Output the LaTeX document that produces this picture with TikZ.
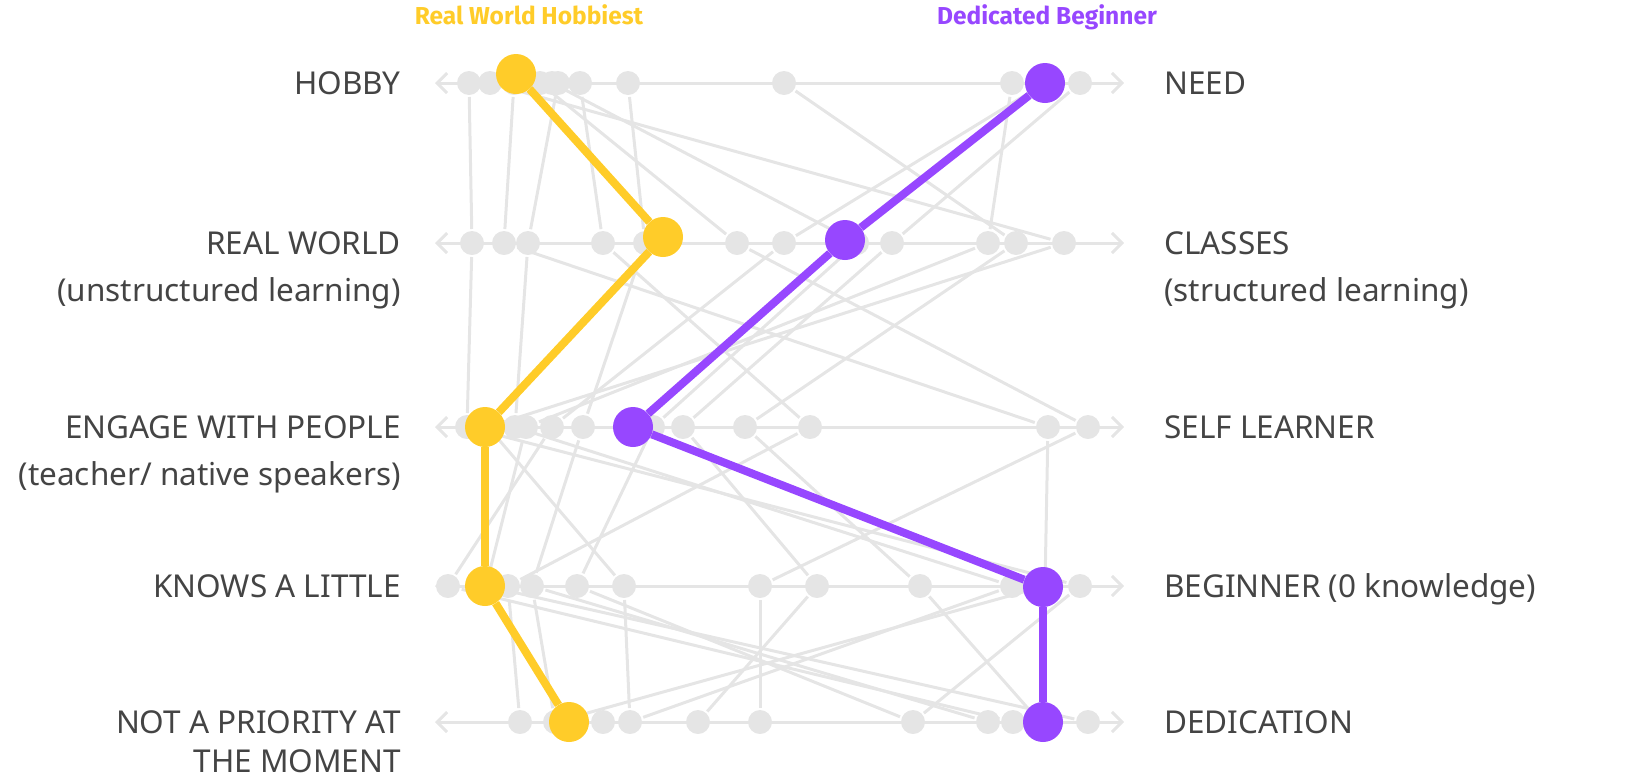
\documentclass[tikz,border=0pt]{standalone}
\usepackage{fontspec}
\setmainfont{Noto Sans}
\newfontfamily\titlefont{Fira Sans}
\usetikzlibrary{arrows.meta}
\definecolor{gr}{HTML}{E5E5E5}
\definecolor{yel}{HTML}{FFCC29}
\definecolor{pur}{HTML}{9747FF}
\definecolor{txt}{HTML}{444444}
\pgfdeclarelayer{bg}
\pgfdeclarelayer{fg}
\pgfsetlayers{bg,main,fg}
\tikzset{
  gdot/.style={circle, fill=gr, minimum size=24pt, inner sep=0pt, outer sep=2pt},
  ydot/.style={circle, fill=yel, minimum size=40pt, inner sep=0pt},
  pdot/.style={circle, fill=pur, minimum size=40pt, inner sep=0pt},
  gline/.style={draw=gr, line width=3pt},
  axisline/.style={draw=gr, line width=3pt, line cap=round, line join=round,
     {Straight Barb[length=10pt,width=20pt]}-{Straight Barb[length=10pt,width=20pt]}},
  yline/.style={draw=yel, line width=8pt},
  pline/.style={draw=pur, line width=8pt},
  lab/.style={font=\fontsize{31.5}{38}\selectfont, text=txt, inner sep=0pt},
  llab/.style={lab, anchor=base east},
  rlab/.style={lab, anchor=base west},
  ttl/.style={font=\titlefont\bfseries\fontsize{24.5}{28}\selectfont, inner sep=0pt, anchor=base}
}
\begin{document}
\begin{tikzpicture}[x=1pt,y=-1pt]
\useasboundingbox (0,0) rectangle (1639,780);

% titles
\node[ttl, text=yel] (t1) at (529,24) {Real World Hobbiest};
\node[ttl, text=pur] (t2) at (1047,24) {Dedicated Beginner};

% left labels
\node[llab] (l1) at (401,94) {HOBBY};
\node[llab] (l2) at (401,254) {REAL WORLD};
\node[llab] (l2b) at (401,301) {(unstructured learning)};
\node[llab] (l3) at (401,438) {ENGAGE WITH PEOPLE};
\node[llab] (l3b) at (401,485) {(teacher/ native speakers)};
\node[llab] (l4) at (401,597) {KNOWS A LITTLE};
\node[llab] (l5) at (401,733) {NOT A PRIORITY AT};
\node[llab] (l5b) at (401,772) {THE MOMENT};
% right labels
\node[rlab] (q1) at (1164,94) {NEED};
\node[rlab] (q2) at (1164,254) {CLASSES};
\node[rlab] (q2b) at (1164,301) {(structured learning)};
\node[rlab] (q3) at (1164,438) {SELF LEARNER};
\node[rlab] (q4) at (1164,597) {BEGINNER (0 knowledge)};
\node[rlab] (q5) at (1164,733) {DEDICATION};

% axis ends
\coordinate (L1) at (435,83);  \coordinate (R1) at (1124,83);
\coordinate (L2) at (435,243); \coordinate (R2) at (1124,243);
\coordinate (L3) at (435,427); \coordinate (R3) at (1124,427);
\coordinate (L4) at (435,586); \coordinate (R4) at (1124,586);
\coordinate (L5) at (435,722); \coordinate (R5) at (1124,722);

% grey dots row 1
\foreach \n/\x in {a/469,b/490,c/514,d/540,e/552,f/558,g/580,h/628,i/784,j/1012,k/1045,l/1080}
  \node[gdot] (r1\n) at (\x,83) {};
% row 2
\foreach \n/\x in {a/472,b/504,c/528,d/603,e/645,f/737,g/784,h/857,i/892,j/988,k/1016,l/1064}
  \node[gdot] (r2\n) at (\x,243) {};
% row 3
\foreach \n/\x in {a/467,b/488,c/515,d/526,e/552,f/583,g/653,h/683,i/745,j/810,k/1048,l/1088}
  \node[gdot] (r3\n) at (\x,427) {};
% row 4
\foreach \n/\x in {a/448,b/486,c/508,d/532,e/577,f/624,g/760,h/817,i/920,j/1012,k/1045,l/1080}
  \node[gdot] (r4\n) at (\x,586) {};
% row 5
\foreach \n/\x in {a/520,b/555,c/603,d/630,e/698,f/760,g/913,h/988,i/1013,j/1040,k/1088}
  \node[gdot] (r5\n) at (\x,722) {};

% coloured dots
\begin{pgfonlayer}{fg}
\node[ydot] (Y1) at (516,74) {};
\node[ydot] (Y2) at (663,237) {};
\node[ydot] (Y3) at (485,427) {};
\node[ydot] (Y4) at (485,586) {};
\node[ydot] (Y5) at (569,722) {};
\node[pdot] (P1) at (1045,83) {};
\node[pdot] (P2) at (845,240) {};
\node[pdot] (P3) at (633,427) {};
\node[pdot] (P4) at (1043,587) {};
\node[pdot] (P5) at (1043,722) {};
\end{pgfonlayer}

\begin{pgfonlayer}{bg}
\foreach \i in {1,...,5} \draw[axisline] (L\i) -- (R\i);
% row1 -> row2
\foreach \s/\t in {a/a,b/l,c/b,d/f,f/c,g/d,e/h,h/e,i/k,j/j,k/g,l/i}
  \draw[gline] (r1\s) -- (r2\t);
% row2 -> row3
\foreach \s/\t in {a/a,b/k,c/c,d/j,e/f,f/l,g/e,h/g,i/h,j/d,k/i,l/b}
  \draw[gline] (r2\s) -- (r3\t);
% row3 -> row4
\foreach \s/\t in {a/l,b/f,c/j,d/b,e/a,f/d,g/e,h/h,i/i,j/c,k/k,l/g}
  \draw[gline] (r3\s) -- (r4\t);
% row4 -> row5
\foreach \s/\t in {a/i,b/k,c/a,d/b,d/h,e/g,f/d,g/f,h/e,i/j,j/d,k/b,l/g}
  \draw[gline] (r4\s) -- (r5\t);
\end{pgfonlayer}

% coloured paths
\draw[yline] (Y1) -- (Y2);
\draw[yline] (Y2) -- (Y3);
\draw[yline] (Y3) -- (Y4);
\draw[yline] (Y4) -- (Y5);
\draw[pline] (P1) -- (P2);
\draw[pline] (P2) -- (P3);
\draw[pline] (P3) -- (P4);
\draw[pline] (P4) -- (P5);
\end{tikzpicture}
\end{document}
